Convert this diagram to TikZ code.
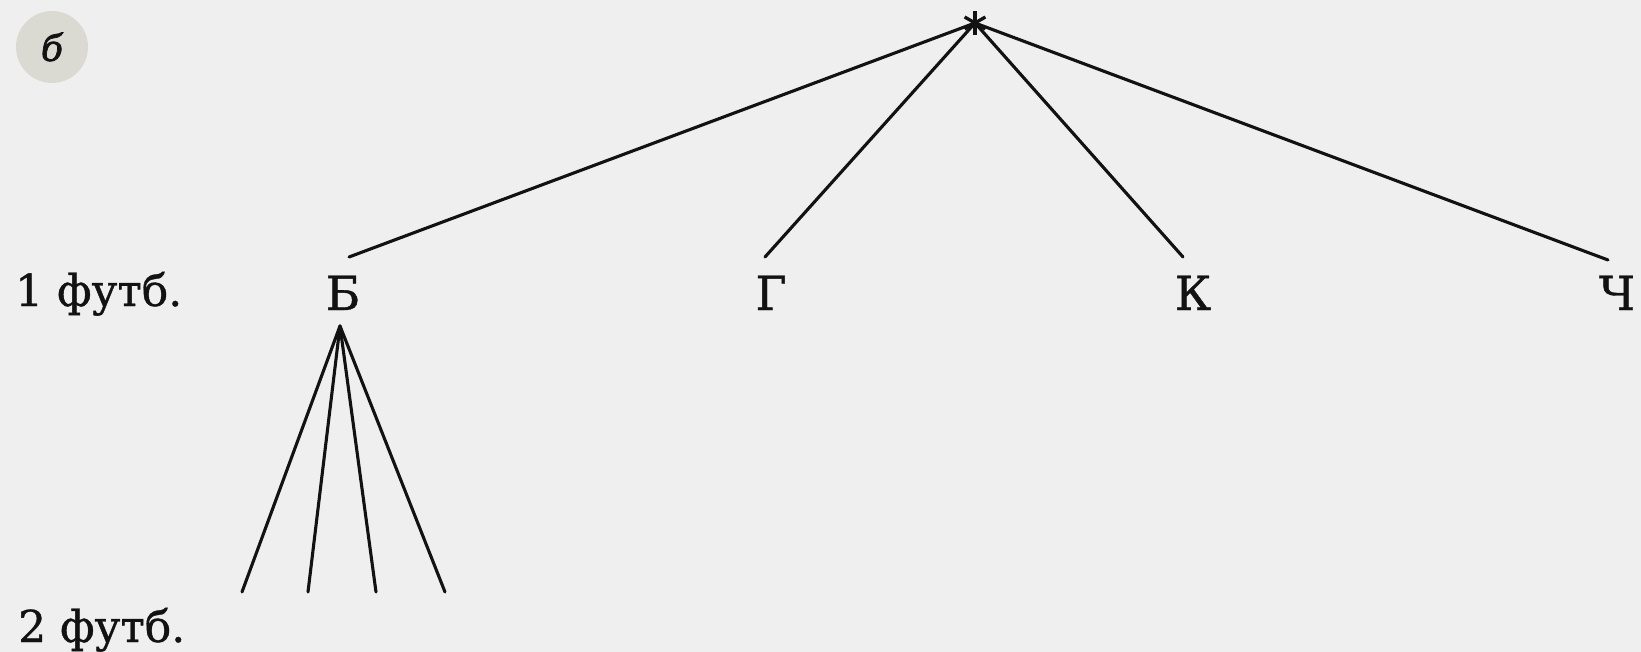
\documentclass[tikz,border=0pt]{standalone}
\usepackage{fontspec}
\setmainfont{DejaVu Serif}
\newfontfamily\heavyserif[FakeBold=0.8]{DejaVu Serif}
\newfontfamily\badgeserif[FakeBold=2]{DejaVu Serif}
\definecolor{bgcol}{HTML}{EFEFEF}
\definecolor{badgecol}{HTML}{DADAD3}
\definecolor{inkcol}{HTML}{121212}
\begin{document}
\begin{tikzpicture}[x=1pt,y=-1pt,
  edge/.style={line width=3.1pt, draw=inkcol, line cap=round},
  lab/.style={font=\heavyserif\fontsize{47}{50}\selectfont, text=inkcol, inner sep=0pt, anchor=base},
  rowlab/.style={font=\heavyserif\fontsize{44}{50}\selectfont, text=inkcol, inner sep=0pt, anchor=base west}]
\fill[bgcol] (0,0) rectangle (1641,652);
\useasboundingbox (0,0) rectangle (1641,652);
% badge
\node[circle, fill=badgecol, minimum size=72pt, inner sep=0pt, text=inkcol,
      font=\badgeserif\fontsize{36}{38}\selectfont\itshape] (badge) at (52,47) {б};
% root asterisk
\coordinate (root) at (975,23);
\foreach \a in {90,30,150}
  \draw[line width=3.3pt, draw=inkcol, shift={(root)}] (\a:12) -- (\a+180:12);
% level labels
\node[rowlab] (row1) at (15,306) {1 футб.};
\node[rowlab] (row2) at (18,642) {2 футб.};
% first level nodes
\node[lab] (b) at (343,310) {Б};
\node[lab] (g) at (771,310) {Г};
\node[lab] (k) at (1193,310) {К};
\node[lab] (ch) at (1617,310) {Ч};
\coordinate (bEnd) at (349,257);
\coordinate (gEnd) at (765,257);
\coordinate (kEnd) at (1183,257);
\coordinate (chEnd) at (1608,260);
\draw[edge] (root) -- (bEnd);
\draw[edge] (root) -- (gEnd);
\draw[edge] (root) -- (kEnd);
\draw[edge] (root) -- (chEnd);
% second level
\coordinate (apex) at (340,326);
\coordinate (l1) at (242,592);
\coordinate (l2) at (308,592);
\coordinate (l3) at (376,592);
\coordinate (l4) at (445,592);
\foreach \l in {l1,l2,l3,l4}
  \draw[edge] (apex) -- (\l);
\end{tikzpicture}
\end{document}
